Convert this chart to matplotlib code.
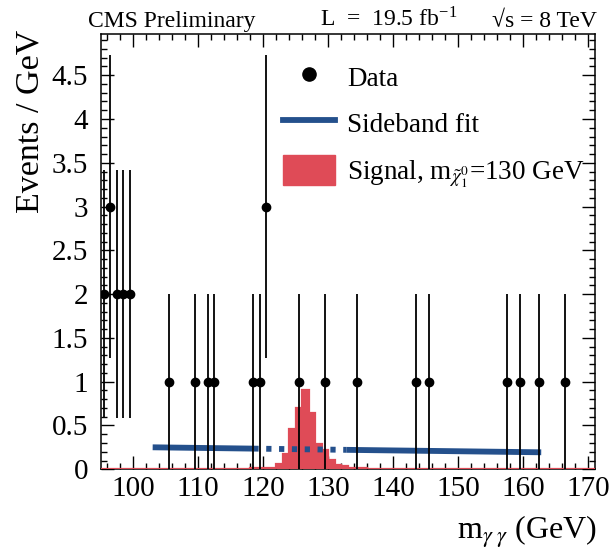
import numpy as np
import matplotlib
matplotlib.use('Agg')
from matplotlib import pyplot as plt
from matplotlib.lines import Line2D
from matplotlib.patches import Patch
from matplotlib.ticker import MultipleLocator

plt.rcParams['font.family'] = ['Liberation Serif', 'DejaVu Serif']
plt.rcParams['mathtext.fontset'] = 'stix'

# observed events (1 GeV bins)
data_mass = [95.5, 96.5, 97.5, 98.5, 99.5, 105.5, 109.5, 111.5, 112.5, 118.5, 119.5,
             120.5, 125.5, 129.5, 134.5, 143.5, 145.5, 157.5, 159.5, 162.5, 166.5]
data_events = [2, 3, 2, 2, 2, 1, 1, 1, 1, 1, 1,
               3, 1, 1, 1, 1, 1, 1, 1, 1, 1]

# signal template, m_chi = 130 GeV, bins of 1 GeV from 117 to 137
signal_start = 117
signal_events = [0.005, 0.01, 0.015, 0.02, 0.02, 0.06, 0.18, 0.46, 0.70, 0.91,
                 0.64, 0.29, 0.22, 0.11, 0.05, 0.04, 0.02, 0.01, 0.01, 0.005]

# sideband fit: solid outside the signal window, dotted inside
fit_mass = [103.0, 118.5, 132.8, 162.8]
fit_events = [0.251, 0.236, 0.222, 0.194]

x_min, x_max = 95, 171
y_max = 4.97

blue = '#24508c'
red = '#df4b57'

fig = plt.figure(figsize=(6.11, 5.49), dpi=100)
ax = fig.add_axes([0.1648, 0.1452, 0.8082, 0.7928])

# signal histogram, padded with empty bins over the full range
edges = np.arange(x_min, x_max + 1)
sig = np.zeros(len(edges) - 1)
i0 = signal_start - x_min
sig[i0:i0 + len(signal_events)] = signal_events
ax.stairs(sig, edges, fill=True, color=red, lw=0.8, zorder=3)
ax.stairs(sig, edges, baseline=None, color=red, lw=1.6, zorder=3)

# sideband fit
ax.plot(fit_mass[:2], fit_events[:2], color=blue, lw=4.2, solid_capstyle='butt', zorder=4)
ax.plot(fit_mass[1:3], fit_events[1:3], color=blue, lw=4.2, ls=(0, (0.9, 1.3)),
        dash_capstyle='butt', zorder=4)
ax.plot(fit_mass[2:], fit_events[2:], color=blue, lw=4.2, solid_capstyle='butt', zorder=4)

# data with sqrt(N) errors
err = np.sqrt(data_events)
ax.errorbar(data_mass, data_events, yerr=err, fmt='o', color='black', ms=6,
            elinewidth=1.3, capsize=0, zorder=5)

ax.set_xlim(x_min, x_max)
ax.set_ylim(0, y_max)
ax.xaxis.set_major_locator(MultipleLocator(10))
ax.xaxis.set_minor_locator(MultipleLocator(2))
ax.yaxis.set_major_locator(MultipleLocator(0.5))
ax.yaxis.set_minor_locator(MultipleLocator(0.1))
ax.yaxis.set_major_formatter(plt.FuncFormatter(lambda v, p: '%g' % v))
ax.tick_params(which='both', direction='in', top=True, right=True, width=1, labelsize=21)
ax.tick_params(which='major', length=9.5)
ax.tick_params(which='minor', length=4.5)
ax.tick_params(axis='y', pad=9)
ax.tick_params(axis='x', pad=5)
for s in ax.spines.values():
    s.set_linewidth(1.1)

handles = [Line2D([], [], marker='o', ls='none', color='black', ms=9.5),
           Line2D([], [], color=blue, lw=4.2),
           Patch(facecolor=red, edgecolor=red)]
labels = ['Data', 'Sideband fit', r'Signal, m$_{\tilde{\chi}^{0}_{1}}$=130 GeV']
ax.legend(handles, labels, loc='upper left', bbox_to_anchor=(0.3696, 0.936),
          frameon=False, fontsize=19.5, handlelength=1.93, handleheight=1.3,
          handletextpad=0.42, labelspacing=0.62, borderpad=0, borderaxespad=0)

fig.text(0.144, 0.951, 'CMS Preliminary', fontsize=17, ha='left', va='baseline')
fig.text(0.524, 0.951, r'L  =  19.5 fb$^{\mathregular{-1}}$', fontsize=17, ha='left', va='baseline')
fig.text(0.977, 0.951, '\u221as = 8 TeV', fontsize=17, ha='right', va='baseline')

fig.text(0.049, 1 - 30 / 549, 'Events / GeV', fontsize=24.5, rotation=90, ha='center', va='top')
fig.text(0.977, 0.018, r'm$_{\gamma\;\gamma}$ (GeV)', fontsize=23, ha='right', va='baseline')

fig.savefig('out.png', dpi=100)
